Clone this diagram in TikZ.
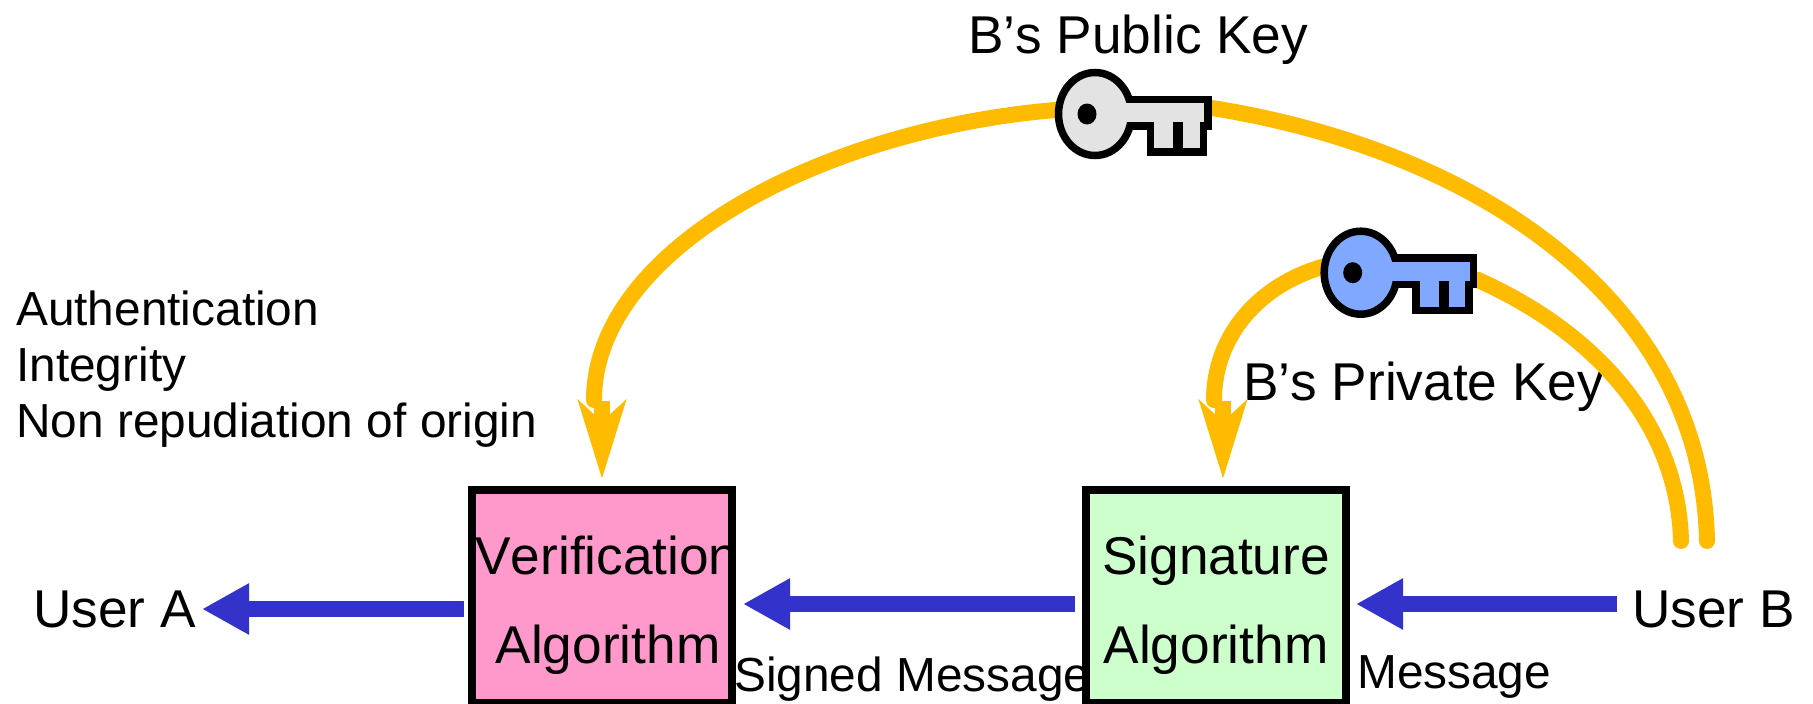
\documentclass[tikz,border=0pt]{standalone}
\usepackage{fontspec}
\setmainfont[Kerning=Off,Ligatures=NoCommon]{Liberation Sans}
\usetikzlibrary{arrows.meta}
\definecolor{gold}{HTML}{FFBB00}
\definecolor{flow}{HTML}{3333CC}
\definecolor{pinkbox}{HTML}{FF99CC}
\definecolor{greenbox}{HTML}{CCFFCC}
\definecolor{pubkey}{HTML}{E3E3E3}
\definecolor{privkey}{HTML}{80A8FF}
\newcommand{\bigsize}{\fontsize{53.2}{60}\selectfont}
\newcommand{\smallsize}{\fontsize{47.8}{55}\selectfont}
\tikzset{
  x=1pt,y=-1pt,
  boxnode/.style={draw=black,line width=7.5pt,minimum width=260pt,minimum height=213pt,inner sep=0pt},
  bigtext/.style={anchor=base west,inner sep=0pt,font=\bigsize},
  boxtext/.style={anchor=base,inner sep=0pt,font=\bigsize},
  smalltext/.style={anchor=base west,inner sep=0pt,font=\smallsize},
  goldline/.style={draw=gold,line width=16pt,line cap=round},
  goldhead/.style={draw=gold,line width=16pt,-{Stealth[length=78pt,width=47pt,inset=21pt]}},
  flowarrow/.style={draw=flow,line width=16pt,-{Triangle[length=47pt,width=48pt]}},
  keyoutline/.style={draw=black,line width=7.5pt,line join=miter},
  pics/thekey/.style={code={
    \draw[keyoutline,fill=#1] (30,-14.7) -- (113,-14.7) -- (113,12) -- (108.3,12) -- (108.3,38) -- (55.3,38) -- (55.3,12) -- (30,12) -- cycle;
    \draw[keyoutline,fill=#1] (0,0) ellipse [x radius=36.5pt,y radius=41.5pt];
    \fill[#1] (28,-11) rectangle (42,8.3);
    \fill[black] (-8,0) ellipse [x radius=9.5pt,y radius=10.5pt];
    \fill[black] (78,8.3) rectangle (88,41.5);
  }}
}
\begin{document}
\begin{tikzpicture}
\useasboundingbox (0,0) rectangle (1813,704);
\fill[white] (0,0) rectangle (1813,704);
% boxes
\node[boxnode,fill=pinkbox] (verify) at (602,596.5) {};
\node[boxnode,fill=greenbox] (sign) at (1216,596.5) {};
% text
\node[boxtext] (verifyA) at (607,574) {Verification};
\node[boxtext] (verifyB) at (608,663) {Algorithm};
\node[boxtext] (signA) at (1216,574) {Signature};
\node[boxtext] (signB) at (1216,663) {Algorithm};
\node[bigtext] (pubtext) at (968,53) {B’s Public Key};
\node[bigtext] (privtext) at (1243,400) {B’s Private Key};
\node[bigtext] (usera) at (33,627) {User A};
\node[bigtext] (userb) at (1632,627) {User B};
\node[smalltext] (prop1) at (16,325) {Authentication};
\node[smalltext] (prop2) at (16,381) {Integrity};
\node[smalltext] (prop3) at (16,437) {Non repudiation of origin};
\node[smalltext] (msgsigned) at (734,691) {Signed Message};
\node[smalltext] (msgplain) at (1357,688) {Message};
% connector ends
\coordinate (pubstart) at (1707,541);
\coordinate (privstart) at (1681,541);
\coordinate (pubkeypos) at (1095,114);
\coordinate (privkeypos) at (1360.7,272.7);
\coordinate (pubend) at (594,400);
\coordinate (privend) at (1214,400);
\coordinate (pubstem) at (602,401);
\coordinate (privstem) at (1223,401);
\coordinate (pubtip) at (602,479);
\coordinate (privtip) at (1223,479);
\coordinate (ubtail) at (1617,604);
\coordinate (ubtip) at (1356,604);
\coordinate (mtail) at (1075,604);
\coordinate (mtip) at (743,604);
\coordinate (ltail) at (464,609);
\coordinate (ltip) at (202,609);
% gold curves
\draw[goldline] (pubstart) .. controls (1702,298) and (1475,150) .. (1212,108) -- (1055,110) .. controls (820,130) and (594,250) .. (pubend);
\draw[goldline] (privstart) .. controls (1678,420) and (1590,330) .. (1478,280) -- (1322,267) .. controls (1260,285) and (1214,335) .. (privend);
\draw[goldhead] (pubstem) -- (pubtip);
\draw[goldhead] (privstem) -- (privtip);
% blue arrows
\draw[flowarrow] (ubtail) -- (ubtip);
\draw[flowarrow] (mtail) -- (mtip);
\draw[flowarrow] (ltail) -- (ltip);
% keys
\pic at (pubkeypos) {thekey=pubkey};
\pic at (privkeypos) {thekey=privkey};
\end{tikzpicture}
\end{document}
